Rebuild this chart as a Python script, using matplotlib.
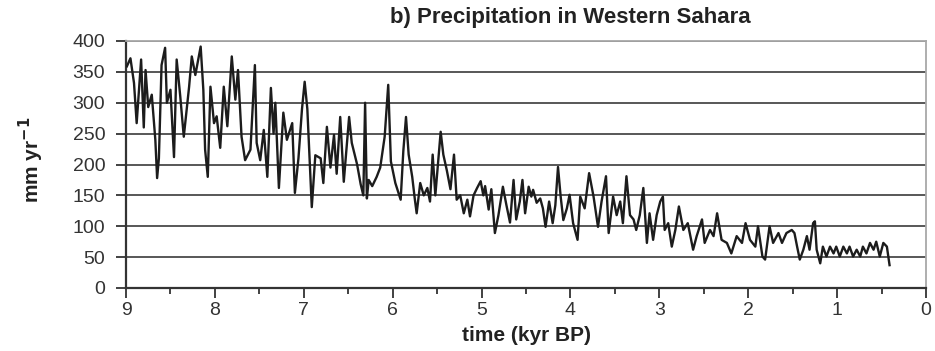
import matplotlib.pyplot as plt
from matplotlib.ticker import MultipleLocator

plt.rcParams['font.family'] = ['Liberation Sans', 'DejaVu Sans']

# time in kyr BP
time_kyr = [
    8.99, 8.95, 8.91, 8.88, 8.83, 8.80, 8.78, 8.75, 8.71, 8.67, 8.65, 8.63,
    8.60, 8.56, 8.54, 8.50, 8.46, 8.43, 8.39, 8.35, 8.29, 8.26, 8.22, 8.16,
    8.13, 8.11, 8.08, 8.05, 8.01, 7.98, 7.94, 7.90, 7.86, 7.81, 7.77, 7.74,
    7.70, 7.66, 7.60, 7.55, 7.53, 7.49, 7.45, 7.41, 7.37, 7.34, 7.32, 7.28,
    7.23, 7.19, 7.13, 7.10, 7.06, 7.02, 6.99, 6.96, 6.91, 6.87, 6.81, 6.78,
    6.74, 6.70, 6.66, 6.63, 6.59, 6.55, 6.49, 6.46, 6.40, 6.36, 6.33, 6.31,
    6.29, 6.27, 6.23, 6.18, 6.14, 6.09, 6.05, 6.02, 5.97, 5.91, 5.88, 5.85,
    5.82, 5.78, 5.75, 5.73, 5.69, 5.65, 5.61, 5.58, 5.55, 5.52, 5.46, 5.43,
    5.39, 5.35, 5.31, 5.28, 5.24, 5.20, 5.16, 5.13, 5.09, 5.05, 5.01, 4.98,
    4.96, 4.92, 4.89, 4.85, 4.81, 4.76, 4.72, 4.68, 4.64, 4.61, 4.57, 4.54,
    4.51, 4.47, 4.44, 4.42, 4.38, 4.34, 4.31, 4.28, 4.24, 4.20, 4.17, 4.14,
    4.11, 4.08, 4.04, 4.01, 3.97, 3.92, 3.89, 3.84, 3.79, 3.74, 3.69, 3.65,
    3.60, 3.57, 3.52, 3.48, 3.44, 3.41, 3.37, 3.33, 3.29, 3.26, 3.22, 3.18,
    3.14, 3.11, 3.07, 3.03, 2.99, 2.96, 2.94, 2.90, 2.86, 2.82, 2.78, 2.73,
    2.68, 2.62, 2.58, 2.52, 2.49, 2.43, 2.39, 2.35, 2.30, 2.24, 2.19, 2.13,
    2.07, 2.03, 1.98, 1.92, 1.89, 1.84, 1.81, 1.76, 1.72, 1.66, 1.62, 1.57,
    1.51, 1.48, 1.45, 1.42, 1.38, 1.34, 1.31, 1.27, 1.25, 1.23, 1.19, 1.16,
    1.12, 1.08, 1.04, 1.01, 0.97, 0.93, 0.89, 0.86, 0.82, 0.78, 0.74, 0.71,
    0.67, 0.63, 0.59, 0.56, 0.52, 0.48, 0.44, 0.41,
]

# precipitation in mm/yr
precip = [
    359, 372, 332, 267, 370, 260, 353, 293, 313, 240, 178, 210,
    361, 389, 300, 321, 212, 370, 311, 245, 326, 375, 345, 391,
    321, 224, 180, 326, 267, 278, 227, 326, 262, 375, 305, 353,
    245, 207, 224, 361, 235, 207, 256, 180, 324, 250, 300, 162,
    284, 240, 267, 154, 210, 290, 334, 290, 131, 215, 210, 170,
    261, 195, 248, 185, 277, 172, 277, 235, 200, 168, 150, 300,
    145, 175, 165, 180, 195, 245, 329, 205, 170, 143, 222, 277,
    216, 180, 143, 121, 170, 150, 162, 140, 216, 150, 253, 216,
    190, 160, 216, 143, 150, 121, 143, 116, 150, 162, 173, 150,
    165, 127, 160, 89, 118, 164, 134, 106, 175, 111, 140, 175,
    121, 164, 148, 159, 138, 145, 129, 99, 140, 105, 134, 196,
    148, 110, 129, 151, 105, 78, 148, 129, 186, 148, 99, 140,
    181, 89, 148, 118, 140, 105, 181, 118, 111, 94, 118, 162,
    73, 121, 78, 118, 140, 148, 94, 105, 67, 94, 132, 94,
    105, 62, 84, 111, 73, 94, 84, 121, 78, 73, 56, 84,
    73, 105, 78, 67, 100, 51, 46, 100, 73, 89, 73, 89,
    94, 89, 67, 46, 62, 84, 62, 105, 108, 62, 40, 67,
    51, 67, 56, 67, 51, 67, 56, 67, 51, 62, 51, 67,
    56, 73, 62, 75, 51, 73, 67, 37,
]

fig = plt.figure(figsize=(9.35, 3.51), dpi=100)
ax = fig.add_axes([126 / 935, 1 - 288 / 351, 800 / 935, 247 / 351])

ax.plot(time_kyr, precip, color='#1c1c1c', lw=1.7, zorder=3)

ax.set_xlim(9, 0)
ax.set_ylim(0, 400)
ax.xaxis.set_major_locator(MultipleLocator(1))
ax.xaxis.set_minor_locator(MultipleLocator(0.5))
ax.yaxis.set_major_locator(MultipleLocator(50))
ax.grid(axis='y', color='#2a2a2a', lw=1.1, zorder=1)

for side in ['top', 'right']:
    ax.spines[side].set_color('#a8a8a8')
    ax.spines[side].set_linewidth(1.3)
for side in ['left', 'bottom']:
    ax.spines[side].set_color('#333333')
    ax.spines[side].set_linewidth(1.6)

ax.tick_params(axis='both', which='major', labelsize=14, colors='#333333',
               width=1.3, length=7, pad=8)
ax.tick_params(axis='x', which='minor', length=4, width=1.3, colors='#333333')
ax.tick_params(axis='x', which='major', pad=3)

ax.set_xlabel('time (kyr BP)', fontsize=15, fontweight='bold', color='#222222')
ax.xaxis.set_label_coords(0.5, -0.155)
ax.set_ylabel('mm yr$^{\\mathbf{-1}}$', fontsize=15, fontweight='bold', color='#222222')
ax.yaxis.set_label_coords(-0.1, 0.52)
fig.text(570 / 935, 1 - 18 / 351, 'b) Precipitation in Western Sahara',
         ha='center', va='center', fontsize=16, fontweight='bold', color='#222222')

fig.savefig('out.png', dpi=100)
